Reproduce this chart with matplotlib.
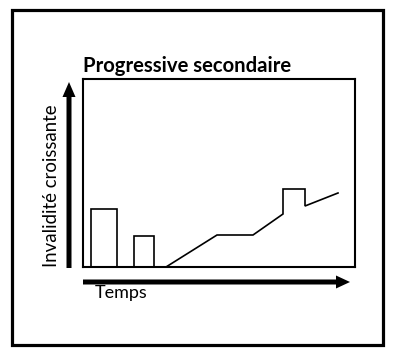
import matplotlib.pyplot as plt
from matplotlib.patches import Rectangle, FancyArrow

# courbe schematique (temps, invalidite) - poussees puis progression
temps = [8, 8, 34, 34, 51, 51, 71, 71, 83, 134, 170, 200, 200, 222, 222, 255]
invalidite = [0, 58, 58, 0, 0, 31, 31, 0, 0, 32, 32, 53, 78, 78, 61, 74]

titre = "Progressive secondaire"
label_y = "Invalidité croissante"
label_x = "Temps"

W, H = 397, 361
fig = plt.figure(figsize=(W / 100, H / 100), dpi=100)

# cadre exterieur
fig.add_artist(Rectangle((12 / W, (H - 345) / H), 371 / W, 335 / H,
                         transform=fig.transFigure, fill=False, lw=2.3, ec="black"))

ax = fig.add_axes([83 / W, (H - 267) / H, 272 / W, 188 / H])
ax.plot(temps, invalidite, color="black", lw=1.2, solid_joinstyle="miter")
ax.set_xlim(0, 272)
ax.set_ylim(0, 188)
ax.set_xticks([])
ax.set_yticks([])
for s in ax.spines.values():
    s.set_linewidth(1.5)

# fleches des axes (en pouces)
fig.add_artist(FancyArrow(0.83, (H - 282) / 100, 2.67, 0, width=0.05, head_width=0.13,
                          head_length=0.14, length_includes_head=True,
                          transform=fig.dpi_scale_trans, color="black", lw=0))
fig.add_artist(FancyArrow(0.69, (H - 268) / 100, 0, 1.86, width=0.05, head_width=0.13,
                          head_length=0.15, length_includes_head=True,
                          transform=fig.dpi_scale_trans, color="black", lw=0))

fig.text(83 / W, (H - 72) / H, titre, fontsize=14.6, fontweight="bold",
         family="Lato", ha="left", va="baseline")
fig.text(95 / W, (H - 298) / H, label_x, fontsize=13, family="Lato",
         ha="left", va="baseline")
fig.text(57 / W, (H - 267) / H, label_y, fontsize=13.4, family="Lato",
         rotation=90, ha="left", va="baseline", rotation_mode="anchor")

fig.savefig("out.png", dpi=100)
